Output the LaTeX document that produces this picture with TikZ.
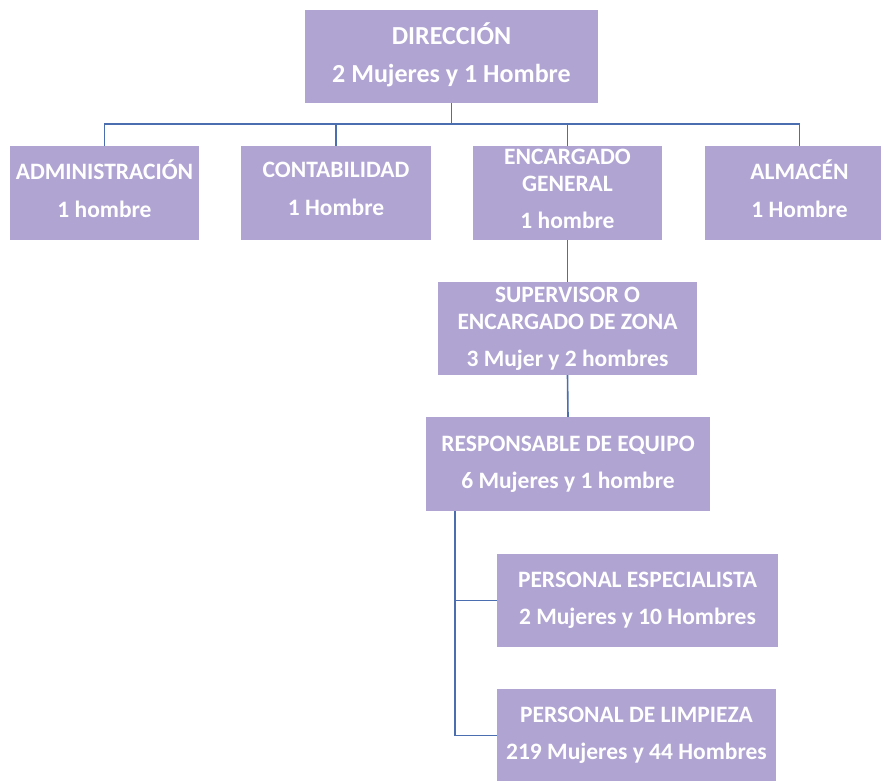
\documentclass[tikz,border=0pt]{standalone}
\usepackage{fontspec}
\setmainfont{Carlito}
\definecolor{boxfill}{RGB}{176,164,211}
\definecolor{connblue}{RGB}{74,110,176}
\newcommand{\lowpad}{\rule[-8pt]{0pt}{8pt}}
\begin{document}
\begin{tikzpicture}[x=1pt,y=-1pt,
  box/.style={fill=boxfill, draw=none, inner sep=0pt, align=center, text=white,
    font=\fontsize{23.5}{27}\selectfont\bfseries},
  bigbox/.style={box, font=\fontsize{26}{30}\selectfont\bfseries},
  conn/.style={draw=connblue, line width=1.6pt}]
\useasboundingbox (0,0) rectangle (881,780);
\clip (0,0) rectangle (881,780);
\fill[white] (0,0) rectangle (881,780);
\node[bigbox, minimum width=293pt, minimum height=93pt] (dir) at (451.5,56.5) {DIRECCIÓN\\[8pt]2 Mujeres y 1 Hombre\lowpad};
\node[box, minimum width=189pt, minimum height=94pt] (adm) at (104.5,193) {ADMINISTRACIÓN\\[11pt]1 hombre\lowpad};
\node[box, minimum width=190pt, minimum height=94pt] (con) at (336,193) {CONTABILIDAD\\[11pt]1 Hombre\lowpad};
\node[box, minimum width=189pt, minimum height=94pt] (enc) at (567.5,193) {ENCARGADO\\GENERAL\\[10pt]1 hombre\lowpad};
\node[box, minimum width=190pt, minimum height=94pt] (alm) at (799.5,193) {ALMACÉN\\[11pt]1 Hombre\lowpad};
\node[box, minimum width=259pt, minimum height=93pt] (sup) at (567.5,328.5) {SUPERVISOR O\\ENCARGADO DE ZONA\\[10pt]3 Mujer y 2 hombres};
\node[box, minimum width=284pt, minimum height=94pt] (res) at (568,464) {RESPONSABLE DE EQUIPO\\[10pt]6 Mujeres y 1 hombre};
\node[box, minimum width=281pt, minimum height=93pt] (esp) at (637.5,600.5) {PERSONAL ESPECIALISTA\\[10pt]2 Mujeres y 10 Hombres};
\node[box, minimum width=279pt, minimum height=93pt] (lim) at (636.5,735.5) {PERSONAL DE LIMPIEZA\\[10pt]219 Mujeres y 44 Hombres};
\coordinate (bus) at (0,124);
\draw[conn] (dir.south) -- (dir.south |- bus);
\draw[conn] (adm.north) |- (alm.north |- bus) -- (alm.north);
\draw[conn] (con.north) -- (con.north |- bus);
\draw[conn] (enc.north) -- (enc.north |- bus);
\draw[conn] (enc.south) -- (sup.north);
\draw[conn] (sup.south) -- (res.north);
\coordinate (trunk) at ([xshift=29pt]res.south west);
\draw[conn] (trunk) |- (esp.west);
\draw[conn] (trunk) |- (lim.west);
\end{tikzpicture}
\end{document}
